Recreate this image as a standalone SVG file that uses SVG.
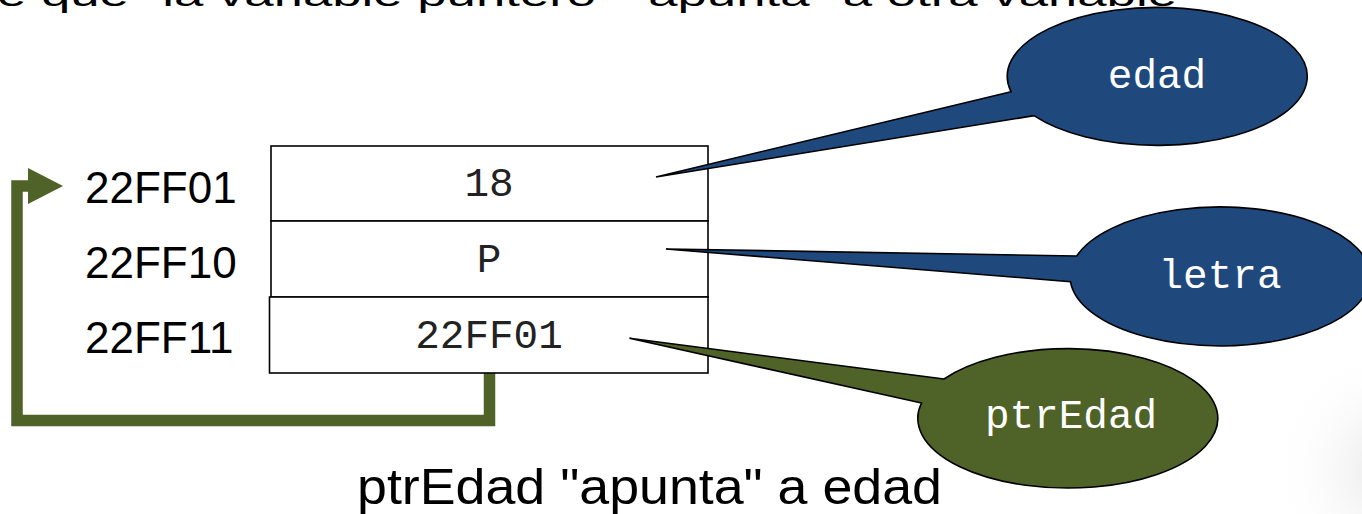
<svg xmlns="http://www.w3.org/2000/svg" width="1362" height="514" viewBox="0 0 1362 514">
<style>
.addr{font-family:"Liberation Sans",Arial,sans-serif;font-size:44px;fill:#000}
.val{font-family:"Liberation Mono","Courier New",monospace;font-size:41px;fill:#222;text-anchor:middle}
.lbl{font-family:"Liberation Mono","Courier New",monospace;font-size:41px;fill:#fff;text-anchor:middle}
.cell{fill:#fff;stroke:#000;stroke-width:1.6}
.blue{fill:#1F497D;stroke:#000;stroke-width:1.6;stroke-linejoin:miter}
.green{fill:#4F6228;stroke:#000;stroke-width:1.6;stroke-linejoin:miter}
.cap{font-family:"Liberation Sans",Arial,sans-serif;fill:#000}
</style>
<defs>
<marker id="head" markerUnits="userSpaceOnUse" markerWidth="36" markerHeight="36" viewBox="0 0 35 36" refX="2" refY="18" orient="auto">
<path d="M0,0 L35,18 L0,36 Z" fill="#4F6228"/>
</marker>
<radialGradient id="shade" cx="1400" cy="470" r="130" gradientUnits="userSpaceOnUse">
<stop offset="0" stop-color="#e4e4e4"/>
<stop offset="1" stop-color="#ffffff" stop-opacity="0"/>
</radialGradient>
</defs>
<rect width="1362" height="514" fill="#fff"/>
<rect x="1230" y="330" width="132" height="184" fill="url(#shade)"/>

<text class="cap" x="-3" y="6" font-size="33" textLength="1180" lengthAdjust="spacingAndGlyphs">e que "la variable puntero" "apunta" a otra variable</text>

<g id="connectors">
<path d="M489.5,373 V420.5 H17 V186 H30" fill="none" stroke="#4F6228" stroke-width="11.5" stroke-linejoin="miter" marker-end="url(#head)"/>
</g>

<g id="memory">
<rect class="cell" x="271" y="146" width="437" height="75"/>
<rect class="cell" x="271" y="221" width="437" height="76"/>
<rect class="cell" x="269.5" y="297" width="438.5" height="76"/>
<text class="val" x="489" y="196">18</text>
<text class="val" x="489" y="272">P</text>
<text class="val" x="489" y="348">22FF01</text>
</g>

<g id="addresses">
<text class="addr" x="85" y="203">22FF01</text>
<text class="addr" x="85" y="278">22FF10</text>
<text class="addr" x="85" y="353">22FF11</text>
</g>

<g id="callout-edad">
<path class="blue" d="M1011,91.7 L656,177 L1034,115.7 A150,69 0 1 0 1011,91.7 Z"/>
<text class="lbl" x="1157" y="88">edad</text>
</g>

<g id="callout-letra">
<path class="blue" d="M1076.7,256 L666,249 L1070.5,281.7 A150,69.5 0 1 0 1076.7,256 Z"/>
<text class="lbl" x="1220" y="288">letra</text>
</g>

<g id="callout-ptrEdad">
<path class="green" d="M944,379 L629.5,338.3 L921.5,403 A150,69.7 0 1 0 944,379 Z"/>
<text class="lbl" x="1071" y="428">ptrEdad</text>
</g>

<text class="cap" x="357" y="504" font-size="50" textLength="585" lengthAdjust="spacingAndGlyphs">ptrEdad "apunta" a edad</text>
</svg>
